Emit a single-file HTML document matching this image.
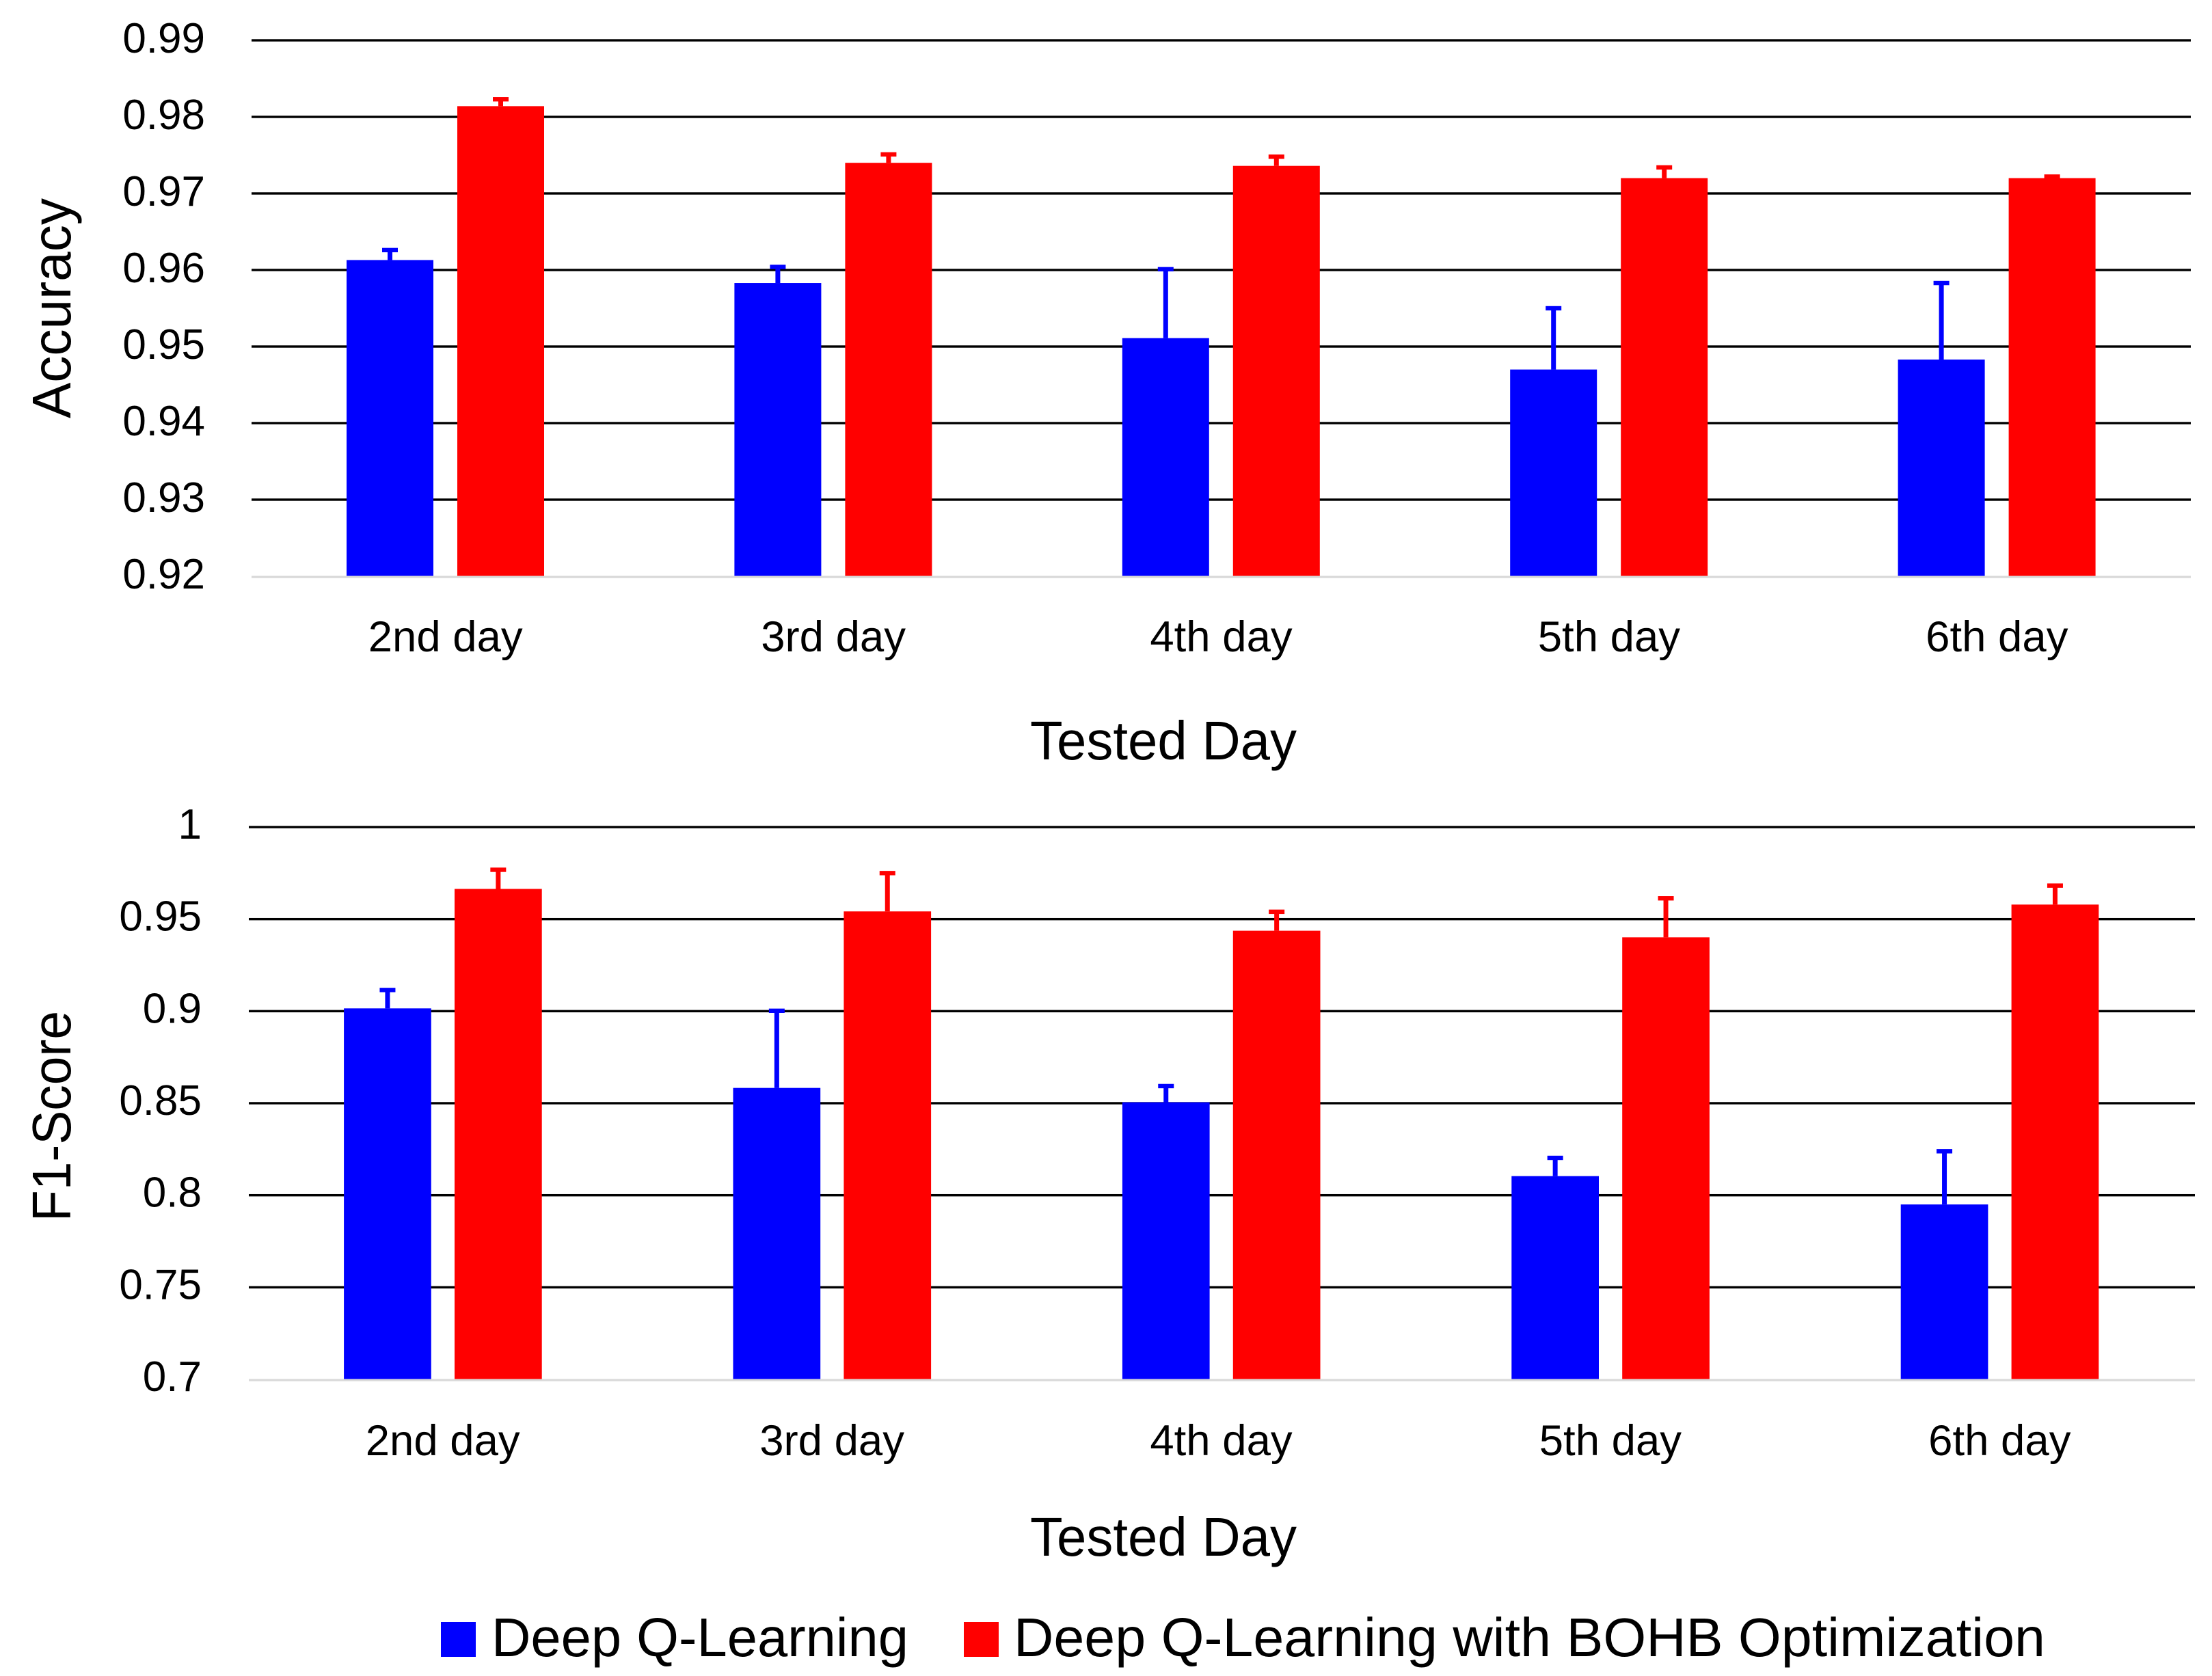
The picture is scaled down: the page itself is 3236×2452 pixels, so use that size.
<!DOCTYPE html>
<html lang="en">
<head>
<meta charset="utf-8">
<title>Deep Q-Learning accuracy and F1-score by tested day</title>
<style>
  html, body { margin: 0; padding: 0; background: #fff; width: 3236px; height: 2452px; overflow: hidden; }
  svg { display: block; }
  text { font-family: "Liberation Sans", Arial, sans-serif; fill: #000; }
</style>
</head>
<body>
<svg id="figure" xmlns="http://www.w3.org/2000/svg" width="3236" height="2452" viewBox="0 0 3236 2452">
  <rect x="0" y="0" width="3236" height="2452" fill="#ffffff"/>
  <g id="accuracy-chart"></g>
  <g id="f1-chart"></g>

  <text transform="translate(103 612) rotate(-90)" font-size="80" textLength="322" lengthAdjust="spacingAndGlyphs">Accuracy</text>
  <text x="1507" y="1111" font-size="80" textLength="390" lengthAdjust="spacingAndGlyphs">Tested Day</text>

  <text transform="translate(103 1787) rotate(-90)" font-size="80" textLength="308" lengthAdjust="spacingAndGlyphs">F1-Score</text>
  <text x="1507" y="2276" font-size="80" textLength="390" lengthAdjust="spacingAndGlyphs">Tested Day</text>

  <g>
    <rect x="645" y="2373" width="51" height="51" fill="#0000ff"/>
    <text x="719" y="2423" font-size="80" textLength="610" lengthAdjust="spacingAndGlyphs">Deep Q-Learning</text>
    <rect x="1410" y="2373" width="51" height="51" fill="#ff0000"/>
    <text x="1483" y="2423" font-size="80" textLength="1509" lengthAdjust="spacingAndGlyphs">Deep Q-Learning with BOHB Optimization</text>
  </g>
</svg>
<script>
// Data
const categories = ["2nd day", "3rd day", "4th day", "5th day", "6th day"];

const accuracyTicks = [0.92, 0.93, 0.94, 0.95, 0.96, 0.97, 0.98, 0.99];
const accuracyTickLabels = ["0.92", "0.93", "0.94", "0.95", "0.96", "0.97", "0.98", "0.99"];
const accuracyDql = [0.9613, 0.9583, 0.9511, 0.9470, 0.9483];
const accuracyDqlErr = [0.0013, 0.0021, 0.0090, 0.0080, 0.0100];
const accuracyBohb = [0.9814, 0.9740, 0.9736, 0.9720, 0.9720];
const accuracyBohbErr = [0.0009, 0.0011, 0.0012, 0.0014, 0.0002];

const f1Ticks = [0.7, 0.75, 0.8, 0.85, 0.9, 0.95, 1];
const f1TickLabels = ["0.7", "0.75", "0.8", "0.85", "0.9", "0.95", "1"];
const f1Dql = [0.9015, 0.8583, 0.8505, 0.8104, 0.7950];
const f1DqlErr = [0.0100, 0.0419, 0.0088, 0.0099, 0.0289];
const f1Bohb = [0.9664, 0.9542, 0.9437, 0.9401, 0.9579];
const f1BohbErr = [0.0104, 0.0208, 0.0103, 0.0212, 0.0103];

const SVG_NS = "http://www.w3.org/2000/svg";

function make(parent, tag, attrs) {
  const el = document.createElementNS(SVG_NS, tag);
  for (const key in attrs) el.setAttribute(key, attrs[key]);
  parent.appendChild(el);
  return el;
}

function drawChart(root, opts) {
  const yMin = opts.ticks[0];
  const yMax = opts.ticks[opts.ticks.length - 1];
  const yScale = function (v) {
    return opts.yBottom - (v - yMin) / (yMax - yMin) * (opts.yBottom - opts.yTop);
  };
  const catWidth = (opts.xRight - opts.xLeft) / categories.length;
  const xCenter = function (i) {
    return opts.xLeft + catWidth * (i + 0.5);
  };

  // Gridlines and tick labels
  opts.ticks.forEach(function (t, i) {
    const y = yScale(t);
    if (i > 0) {
      const grid = make(root, "rect", { x: opts.xLeft, y: y - 1.7, width: opts.xRight - opts.xLeft, height: 3.4, fill: "#000000" });
      
      
    }
    const label = make(root, "text", { x: opts.tickRight, y: y + opts.tickDy, "font-size": 62, "text-anchor": "end" });
    label.textContent = opts.tickLabels[i];
    
    
  });

  // Bars with upper error whiskers
  opts.series.forEach(function (s) {
    s.values.forEach(function (v, i) {
      const left = xCenter(i) + s.offset;
      const top = yScale(v);
      const bar = make(root, "rect", { x: left, y: top, width: opts.barWidth, height: opts.yBottom - top, fill: s.color });
      
      

      const cx = left + opts.barWidth / 2;
      const capY = yScale(v + s.errors[i]);
      const stem = make(root, "rect", { x: cx - 3.5, y: capY, width: 7, height: top - capY, fill: s.color });
      
      
      const cap = make(root, "rect", { x: cx - 11.5, y: capY - 3.2, width: 23, height: 6.4, fill: s.color });
      
      
    });
  });

  // Category baseline
  const baseline = make(root, "rect", { x: opts.xLeft, y: opts.yBottom - 0.5, width: opts.xRight - opts.xLeft, height: 3.2, fill: "#d9d9d9" });
  
  

  // Category labels
  categories.forEach(function (c, i) {
    const label = make(root, "text", { x: xCenter(i) + opts.labelDx, y: opts.labelY, "font-size": 63.5, "text-anchor": "middle" });
    label.textContent = c;
    
    
  });
}

drawChart(document.getElementById("accuracy-chart"), {
  ticks: accuracyTicks,
  tickLabels: accuracyTickLabels,
  xLeft: 368, xRight: 3205, yTop: 59, yBottom: 843,
  tickRight: 300, tickDy: 18,
  barWidth: 127, labelDx: 0, labelY: 953,
  series: [
    { name: "deep-q-learning", color: "#0000ff", values: accuracyDql, errors: accuracyDqlErr, offset: -144.7 },
    { name: "bohb", color: "#ff0000", values: accuracyBohb, errors: accuracyBohbErr, offset: 17.3 }
  ]
});

drawChart(document.getElementById("f1-chart"), {
  ticks: f1Ticks,
  tickLabels: f1TickLabels,
  xLeft: 364, xRight: 3211, yTop: 1210, yBottom: 2018,
  tickRight: 295, tickDy: 17,
  barWidth: 127.7, labelDx: -1, labelY: 2129,
  series: [
    { name: "deep-q-learning", color: "#0000ff", values: f1Dql, errors: f1DqlErr, offset: -145.6 },
    { name: "bohb", color: "#ff0000", values: f1Bohb, errors: f1BohbErr, offset: 16.3 }
  ]
});
</script>
</body>
</html>
